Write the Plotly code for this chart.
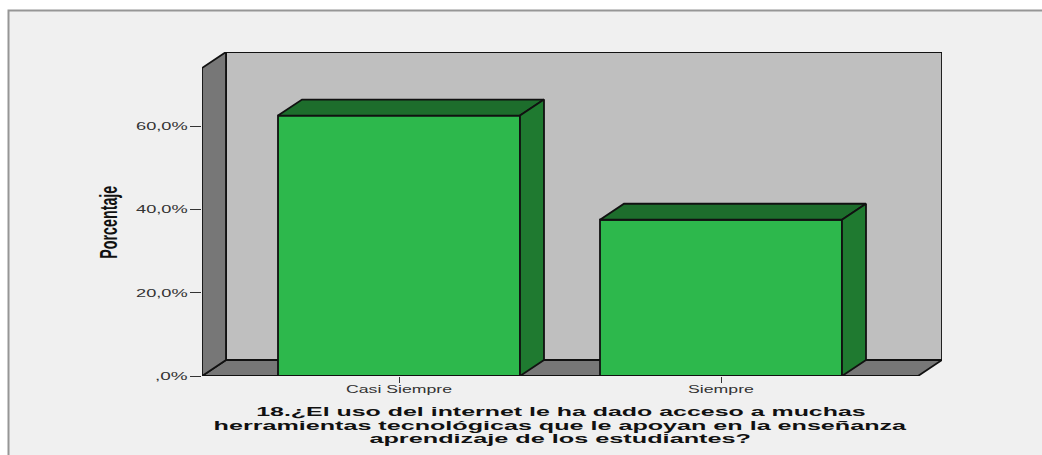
import plotly.graph_objects as go

categories = ["Casi Siempre", "Siempre"]
percentages = [62.5, 37.5]
y_tick_values = [0, 20, 40, 60]
y_tick_labels = [",0%", "20,0%", "40,0%", "60,0%"]
axis_title_lines = [
    "18.¿El uso del internet le ha dado acceso a muchas",
    "herramientas tecnológicas que le apoyan en la enseñanza",
    "aprendizaje de los estudiantes?",
]
value_title = "Porcentaje"

W, H = 1042, 455
L, R, T, B = 202, 942, 52, 376      # plot box in page pixels
PX_PER_PCT = 250 / 60
PX_PER_CAT = 322
DX = 24 / PX_PER_CAT                 # 3D depth, in x-axis units
DY = 16 / PX_PER_PCT                 # 3D depth, in y-axis units
BAR_W = 242 / PX_PER_CAT
X0 = -(399 - L) / PX_PER_CAT
X1 = (R - 399) / PX_PER_CAT
YTOP = (B - T) / PX_PER_PCT

BAR, BAR_TOP, BAR_SIDE = "#2db84c", "#1d6d2c", "#1f7a30"
WALL, BACK, BG = "#777777", "#bfbfbf", "#f0f0f0"
EDGE = "#111111"

fig = go.Figure()
edge = dict(color=EDGE, width=1.8)

def poly(xs, ys, fill):
    fig.add_trace(go.Scatter(x=xs + xs[:1], y=ys + ys[:1], mode="lines", fill="toself",
                             fillcolor=fill, line=edge, hoverinfo="skip", showlegend=False))

# Left wall
poly([X0, X0 + DX, X0 + DX, X0], [0, DY, YTOP, YTOP - DY], WALL)

# Front faces
fig.add_trace(go.Bar(x=[0, 1], y=percentages, width=BAR_W, marker=dict(color=BAR, line=edge),
                     showlegend=False, hoverinfo="skip"))

# Top and side faces
for i, v in enumerate(percentages):
    a, b = i - BAR_W / 2, i + BAR_W / 2
    poly([a, a + DX, b + DX, b], [v, v + DY, v + DY, v], BAR_TOP)
    poly([b, b + DX, b + DX, b], [0, DY, v + DY, v], BAR_SIDE)

def px(x):
    return (x - L) / (R - L)

def py(y):
    return (B - y) / (B - T)

shapes = [
    # white outer page, framed panel
    dict(type="rect", xref="paper", yref="paper", x0=px(8.5), x1=px(W + 20), y0=py(10.5), y1=py(H + 20),
         fillcolor=BG, line=dict(color="#969696", width=2), layer="below"),
    # back wall
    dict(type="rect", xref="x", yref="y", x0=X0 + DX, x1=X1, y0=DY, y1=YTOP,
         fillcolor=BACK, line=edge, layer="below"),
    # floor
    dict(type="path", xref="x", yref="y",
         path=f"M {X0} 0 L {X0 + DX} {DY} L {X1} {DY} L {X1 - DX} 0 Z",
         fillcolor=WALL, line=edge, layer="below"),
]

annotations = [
    dict(text=line, xref="paper", yref="paper", x=px(560.5), y=py(yc), yanchor="middle", xanchor="center",
         showarrow=False, align="center",
         font=dict(family="Liberation Sans", size=13, color="#111111", weight="bold"))
    for line, yc in zip(axis_title_lines, [411, 425, 438])
]
annotations.append(
    dict(text=value_title, xref="paper", yref="paper", x=px(109), y=py(222), xanchor="center", yanchor="middle",
         textangle=-90, showarrow=False,
         font=dict(family="Liberation Sans", size=23, color="#111111", weight="bold")))

fig.update_layout(
    width=W, height=H, autosize=False,
    margin=dict(l=L, r=W - R, t=T, b=H - B, pad=0),
    paper_bgcolor="white", plot_bgcolor="rgba(0,0,0,0)",
    shapes=shapes, annotations=annotations, showlegend=False,
    font=dict(family="Liberation Sans", color="#333333"),
    xaxis=dict(type="linear", range=[X0, X1], tickvals=[0, 1], ticktext=categories, showgrid=False,
               zeroline=False, showline=False, ticks="outside", ticklen=6, tickcolor="#333333",
               ticklabelstandoff=-3, tickfont=dict(size=11, color="#333333")),
    yaxis=dict(range=[0, YTOP], tickvals=y_tick_values, ticktext=y_tick_labels, showgrid=False,
               zeroline=False, showline=False, ticks="outside", ticklen=11, tickcolor="#333333",
               tickfont=dict(size=11, color="#333333")),
)

# The reference's text is stretched or squeezed along its baseline.
post = """
document.body.style.margin = '0';
function stretch(el, sx, pivot) {
  var old = el.getAttribute('transform') || '';
  el.setAttribute('transform', old + ' translate(' + pivot + ',0) scale(' + sx + ',1) translate(' + (-pivot) + ',0)');
}
function widthTo(el, w) { var b = el.getBBox(); stretch(el, w / b.width, b.x + b.width / 2); }
function widthToRight(el, w) { var b = el.getBBox(); stretch(el, w / b.width, b.x + b.width); }
document.querySelectorAll('.xtick text').forEach(function (t, i) { widthTo(t, [106, 66][i]); });
document.querySelectorAll('.ytick text').forEach(function (t, i) { widthToRight(t, [33, 52, 52, 52][i]); });
var a = document.querySelectorAll('.annotation-text');
[610, 694, 382, 73].forEach(function (w, i) { widthTo(a[i], w); });
"""

fig.write_html("out.html", post_script=post, config={"displayModeBar": False})
